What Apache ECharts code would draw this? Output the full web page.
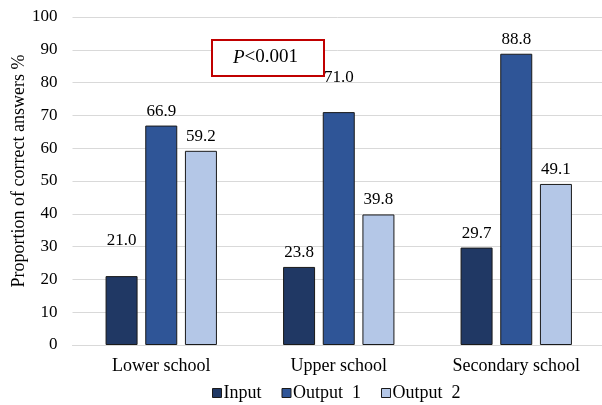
<!DOCTYPE html>
<html><head><meta charset="utf-8">
<script src="https://cdn.jsdelivr.net/npm/echarts@6/dist/echarts.min.js"></script>
<style>html,body{margin:0;padding:0;background:#fff}#c{width:602px;height:405px}</style>
</head><body><div id="c"></div>
<script>
var categories = ['Lower school', 'Upper school', 'Secondary school'];
var inputVals = [21.0, 23.8, 29.7];
var output1Vals = [66.9, 71.0, 88.8];
var output2Vals = [59.2, 39.8, 49.1];
var yTicks = [0, 10, 20, 30, 40, 50, 60, 70, 80, 90, 100];
var seriesNames = ['Input', 'Output  1', 'Output  2'];
var colors = ['#203864', '#2F5597', '#B4C7E7'];
var labelShift = { 'Input': {0: -21}, 'Output  1': {1: -20} };
var font = 'Liberation Serif';

function mk(name, vals, color) {
  return {
    name: name, type: 'bar', barWidth: 32, barGap: '24%',
    itemStyle: { color: color, borderColor: '#1a1a1a', borderWidth: 1 },
    label: { show: true, position: 'top', distance: 6, fontFamily: font, fontSize: 17, color: '#000',
      formatter: function (p) { return p.value.toFixed(1); } },
    data: vals.map(function (v, i) {
      var s = labelShift[name] && labelShift[name][i];
      return s ? { value: v, label: { offset: [0, s] } } : v;
    })
  };
}

var chart = echarts.init(document.getElementById('c'));
chart.setOption({
  animation: false,
  textStyle: { fontFamily: font },
  grid: { left: 72.5, right: -3, top: 17, bottom: 60, outerBoundsMode: 'none', containLabel: false },
  legend: {
    bottom: 3, left: 212, padding: 0, icon: 'rect', itemWidth: 9, itemHeight: 9, itemGap: 20,
    textStyle: { fontFamily: font, fontSize: 18, color: '#000', padding: [0, 0, 0, -3] },
    itemStyle: { borderColor: '#1a1a1a', borderWidth: 1 },
    data: seriesNames
  },
  xAxis: {
    type: 'category', data: categories,
    axisLine: { lineStyle: { color: '#d9d9d9' } }, axisTick: { show: false },
    axisLabel: { fontFamily: font, fontSize: 18, color: '#000', margin: 12 }
  },
  yAxis: {
    type: 'value', min: yTicks[0], max: yTicks[yTicks.length - 1], interval: 10,
    name: 'Proportion of correct answers %', nameLocation: 'middle', nameGap: 44, nameMoveOverlap: false,
    nameTextStyle: { fontFamily: font, fontSize: 18, color: '#000', padding: [0, 0, 0, 20] },
    axisLabel: { fontFamily: font, fontSize: 17, color: '#000', margin: 15 },
    splitLine: { lineStyle: { color: '#d9d9d9' } }
  },
  series: [mk(seriesNames[0], inputVals, colors[0]), mk(seriesNames[1], output1Vals, colors[1]), mk(seriesNames[2], output2Vals, colors[2])],
  graphic: [{
    type: 'rect', left: 211, top: 39, z: 100, shape: { width: 112, height: 36 },
    style: { fill: '#fff', stroke: '#C00000', lineWidth: 2 }
  }, {
    type: 'text', left: 233, top: 48, z: 101,
    style: { text: '{i|P}{n|<0.001}', rich: {
      i: { fontFamily: font, fontSize: 19, fontStyle: 'italic', fill: '#000' },
      n: { fontFamily: font, fontSize: 19, fill: '#000' } } }
  }]
});
</script></body></html>
